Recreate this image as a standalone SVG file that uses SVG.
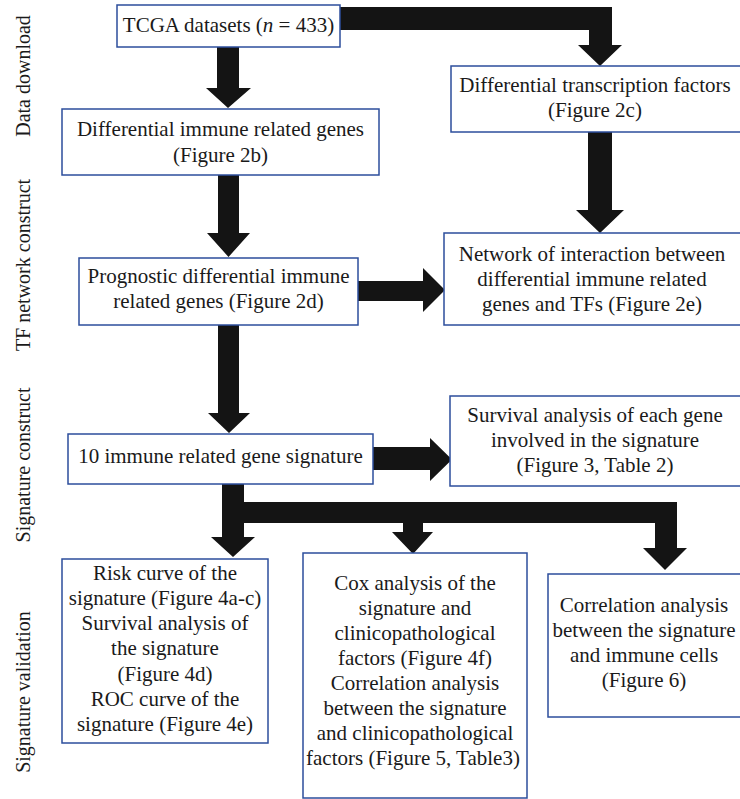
<svg xmlns="http://www.w3.org/2000/svg" width="740" height="799" viewBox="0 0 740 799">
<style>
.box{fill:#fff;stroke:#2c4e9c;stroke-width:1.5}
.t{font-family:"Liberation Serif","Times New Roman",serif;font-size:21px;fill:#1a1a1a;text-anchor:middle}
.side{font-family:"Liberation Serif","Times New Roman",serif;font-size:20px;fill:#1a1a1a;text-anchor:middle}
.arrow{fill:#141414}
</style>
<rect width="740" height="799" fill="#fff"/>
<g id="side-labels">
<text class="side" transform="translate(30,76) rotate(-90)">Data download</text>
<text class="side" transform="translate(30,265) rotate(-90)">TF network construct</text>
<text class="side" transform="translate(30,465) rotate(-90)">Signature construct</text>
<text class="side" transform="translate(30,692) rotate(-90)">Signature validation</text>
</g>
<g id="connectors">
<polygon class="arrow" points="217,47 239,47 239,88 251,88 228,108 206,88 217,88"/>
<polygon class="arrow" points="340,7 612,7 612,45 622,45 600,66 578,45 589,45 589,30 340,30"/>
<polygon class="arrow" points="218,175 239,175 239,233 250,233 228.5,257 207,233 218,233"/>
<polygon class="arrow" points="588,132 612,132 612,210 624,210 600,233 576,210 588,210"/>
<polygon class="arrow" points="358,281 423,281 423,268 445,290 423,312 423,301 358,301"/>
<polygon class="arrow" points="218,325 239,325 239,413 250,413 229,433 208,413 218,413"/>
<polygon class="arrow" points="373,447 430,447 430,438 452,459.5 430,481 430,470 373,470"/>
<path class="arrow" d="M222,484 H244 V502 H677 V548 H687 L665,570 L643,548 H655 V523 H423 V532 H433 L413,554 L392,532 H403 V523 H244 V537 H255 L233,557 L211,537 H222 Z"/>
</g>
<g id="n1">
<rect class="box" x="117" y="5" width="223" height="42"/>
<text class="t" x="228.5" y="32">TCGA datasets (<tspan font-style="italic">n</tspan> = 433)</text>
</g>
<g id="n2">
<rect class="box" x="62" y="109" width="317" height="66"/>
<text class="t" x="220.5" y="136">Differential immune related genes</text>
<text class="t" x="220.5" y="162">(Figure 2b)</text>
</g>
<g id="n3">
<rect class="box" x="451" y="66" width="295" height="66"/>
<text class="t" x="595" y="92">Differential transcription factors</text>
<text class="t" x="595" y="117">(Figure 2c)</text>
</g>
<g id="n4">
<rect class="box" x="444" y="233" width="302" height="92"/>
<text class="t" x="592" y="261">Network of interaction between</text>
<text class="t" x="592" y="286">differential immune related</text>
<text class="t" x="592" y="311">genes and TFs (Figure 2e)</text>
</g>
<g id="n5">
<rect class="box" x="79" y="258" width="279" height="67"/>
<text class="t" x="218.5" y="283">Prognostic differential immune</text>
<text class="t" x="218.5" y="308">related genes (Figure 2d)</text>
</g>
<g id="n6">
<rect class="box" x="68" y="434" width="305" height="50"/>
<text class="t" x="220.5" y="463">10 immune related gene signature</text>
</g>
<g id="n7">
<rect class="box" x="450" y="396" width="296" height="90"/>
<text class="t" x="595" y="422">Survival analysis of each gene</text>
<text class="t" x="595" y="447">involved in the signature</text>
<text class="t" x="595" y="472">(Figure 3, Table 2)</text>
</g>
<g id="n8">
<rect class="box" x="62" y="559" width="206" height="184"/>
<text class="t" x="165" y="580">Risk curve of the</text>
<text class="t" x="165" y="605">signature (Figure 4a-c)</text>
<text class="t" x="165" y="630">Survival analysis of</text>
<text class="t" x="165" y="655">the signature</text>
<text class="t" x="165" y="681">(Figure 4d)</text>
<text class="t" x="165" y="706">ROC curve of the</text>
<text class="t" x="165" y="731">signature (Figure 4e)</text>
</g>
<g id="n9">
<rect class="box" x="303" y="553" width="224" height="245"/>
<text class="t" x="415" y="590">Cox analysis of the</text>
<text class="t" x="415" y="615">signature and</text>
<text class="t" x="415" y="640">clinicopathological</text>
<text class="t" x="415" y="665">factors (Figure 4f)</text>
<text class="t" x="415" y="690">Correlation analysis</text>
<text class="t" x="415" y="715">between the signature</text>
<text class="t" x="415" y="740">and clinicopathological</text>
<text class="t" x="413" y="765">factors (Figure 5, Table3)</text>
</g>
<g id="n10">
<rect class="box" x="548" y="574" width="198" height="143"/>
<text class="t" x="644" y="612">Correlation analysis</text>
<text class="t" x="644" y="637">between the signature</text>
<text class="t" x="644" y="662">and immune cells</text>
<text class="t" x="644" y="687">(Figure 6)</text>
</g>
</svg>
